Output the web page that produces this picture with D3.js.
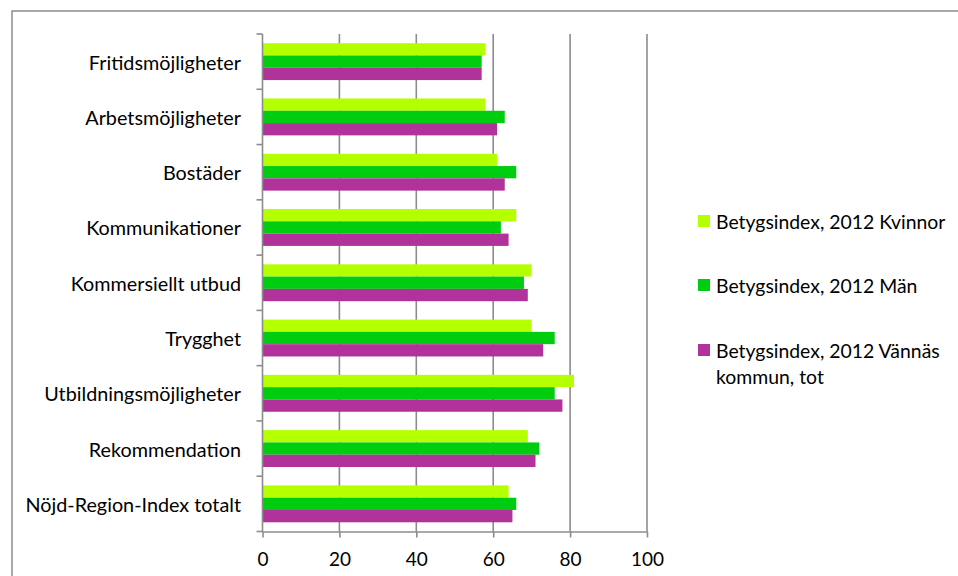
<!DOCTYPE html>
<html>
<head>
<meta charset="utf-8">
<script src="https://cdn.jsdelivr.net/npm/d3@7"></script>
<style>
  html, body { margin: 0; padding: 0; background: #fff; }
  svg { display: block; }
  text { font-family: Lato, "Open Sans", sans-serif; fill: #000; }
</style>
</head>
<body>
<svg id="chart" width="958" height="576"></svg>
<script>
const categories = [
  "Fritidsmöjligheter",
  "Arbetsmöjligheter",
  "Bostäder",
  "Kommunikationer",
  "Kommersiellt utbud",
  "Trygghet",
  "Utbildningsmöjligheter",
  "Rekommendation",
  "Nöjd-Region-Index totalt"
];
const seriesNames = [
  "Betygsindex, 2012 Kvinnor",
  "Betygsindex, 2012 Män",
  "Betygsindex, 2012 Vännäs kommun, tot"
];
const kvinnor = [58, 58, 61, 66, 70, 70, 81, 69, 64];
const man     = [57, 63, 66, 62, 68, 76, 76, 72, 66];
const totalt  = [57, 61, 63, 64, 69, 73, 78, 71, 65];
const xTicks = [0, 20, 40, 60, 80, 100];

const seriesColors = ["#b4ff00", "#00cc10", "#b2329c"];
const seriesValues = [kvinnor, man, totalt];

const svg = d3.select("#chart");
const W = 958, H = 576;
const plot = { left: 262.5, right: 647, top: 34, bottom: 531.5 };
const gridColor = "#8c8c8c";
const catFont = 19.8;
const tickFont = 19;
const legendFont = 19.4;

// outer border (only left/top visible in frame)
svg.append("rect")
  .attr("x", 12).attr("y", 11)
  .attr("width", W + 20).attr("height", H + 20)
  .attr("fill", "none").attr("stroke", gridColor).attr("stroke-width", 1.5);

const x = d3.scaleLinear().domain([0, 100]).range([plot.left, plot.right]);
const y = d3.scaleBand().domain(categories).range([plot.top, plot.bottom])
  .paddingInner(0.333).paddingOuter(0.1665);
const ySub = d3.scaleBand().domain(d3.range(seriesNames.length)).range([0, y.bandwidth()]);

// gridlines
svg.append("g").selectAll("line")
  .data(xTicks.filter(t => t > 0))
  .join("line")
  .attr("x1", d => x(d)).attr("x2", d => x(d))
  .attr("y1", plot.top).attr("y2", plot.bottom)
  .attr("stroke", gridColor).attr("stroke-width", 1.6);

// bars
const rows = categories.map((c, i) => ({ c, vals: seriesValues.map(s => s[i]) }));
const g = svg.append("g").selectAll("g")
  .data(rows).join("g")
  .attr("transform", d => `translate(0,${y(d.c)})`);
g.selectAll("rect")
  .data(d => d.vals.map((v, k) => ({ v, k })))
  .join("rect")
  .attr("x", x(0))
  .attr("y", d => ySub(d.k))
  .attr("width", d => x(d.v) - x(0))
  .attr("height", ySub.bandwidth())
  .attr("fill", d => seriesColors[d.k]);

// y axis (ticks at band boundaries)
const yAxis = svg.append("g");
yAxis.append("line")
  .attr("x1", plot.left).attr("x2", plot.left)
  .attr("y1", plot.top).attr("y2", plot.bottom)
  .attr("stroke", gridColor).attr("stroke-width", 1.6);
yAxis.selectAll("line.tick")
  .data(d3.range(categories.length + 1))
  .join("line").attr("class", "tick")
  .attr("x1", plot.left - 6).attr("x2", plot.left)
  .attr("y1", i => plot.top + i * (plot.bottom - plot.top) / categories.length)
  .attr("y2", i => plot.top + i * (plot.bottom - plot.top) / categories.length)
  .attr("stroke", gridColor).attr("stroke-width", 1.6);
yAxis.selectAll("text")
  .data(categories).join("text")
  .attr("x", 241)
  .attr("y", d => y(d) + y.bandwidth() / 2)
  .attr("text-anchor", "end")
  .attr("dominant-baseline", "central")
  .attr("font-size", catFont)
  .text(d => d);

// x axis
const xAxis = svg.append("g").attr("transform", `translate(0,${plot.bottom})`)
  .call(d3.axisBottom(x).tickValues(xTicks).tickSize(6).tickSizeOuter(0).tickFormat(d3.format("d")));
xAxis.select(".domain").attr("stroke", gridColor).attr("stroke-width", 1.6);
xAxis.selectAll(".tick line").attr("stroke", gridColor).attr("stroke-width", 1.6);
xAxis.selectAll(".tick text")
  .attr("font-family", "Lato, sans-serif")
  .attr("font-size", tickFont)
  .attr("fill", "#000")
  .attr("y", 0).attr("dy", 0)
  .attr("transform", "translate(0,27)")
  .attr("dominant-baseline", "central");

// legend
const legendRows = [
  { lines: ["Betygsindex, 2012 Kvinnor"], y: 221 },
  { lines: ["Betygsindex, 2012 Män"], y: 285 },
  { lines: ["Betygsindex, 2012 Vännäs", "kommun, tot"], y: 350 }
];
const lg = svg.append("g").selectAll("g").data(legendRows).join("g");
lg.append("rect")
  .attr("x", 698).attr("y", d => d.y - 6)
  .attr("width", 12).attr("height", 12)
  .attr("fill", (d, i) => seriesColors[i]);
lg.each(function(d) {
  const t = d3.select(this).append("text")
    .attr("x", 716).attr("y", d.y)
    .attr("font-size", legendFont)
    .attr("dominant-baseline", "central");
  d.lines.forEach((ln, j) => {
    t.append("tspan").attr("x", 716).attr("dy", j === 0 ? 0 : 26).text(ln);
  });
});
</script>
</body>
</html>
